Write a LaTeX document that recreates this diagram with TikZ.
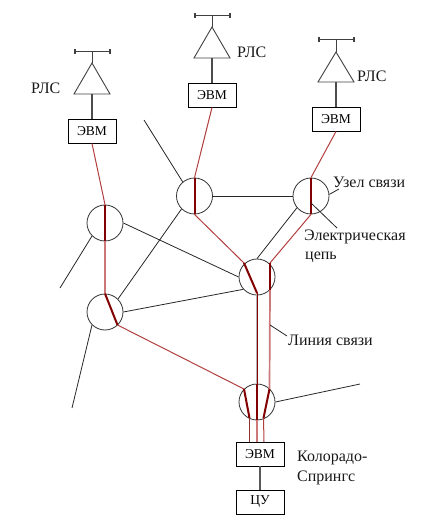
\documentclass[tikz,border=0pt]{standalone}
\usepackage{fontspec}
\setmainfont{Liberation Serif}
\definecolor{thinred}{RGB}{178,62,62}
\definecolor{palered}{RGB}{205,120,120}
\definecolor{darkcore}{RGB}{130,0,0}
\tikzset{
  x=1pt,y=-1pt,
  hub/.style={draw=black!80,line width=0.8pt,circle,minimum size=36pt,inner sep=0pt},
  compbox/.style={draw=black,line width=0.9pt,minimum width=48pt,minimum height=24pt,inner sep=0pt,font=\fontsize{13.5}{15}\selectfont},
  wire/.style={draw=black!85,line width=0.8pt},
  redwire/.style={draw=thinred,line width=1pt},
  paleline/.style={draw=palered,line width=1.7pt},
  core/.style={draw=darkcore,line width=2pt},
  ant/.style={draw=black!75,line width=0.9pt},
  lbl/.style={inner sep=0pt,anchor=west,font=\fontsize{16}{18}\selectfont,text=black!90},
}
\begin{document}
\begin{tikzpicture}
\useasboundingbox (0,0) rectangle (424,529);
% hubs
\node[hub] (h1) at (105,223) {};
\node[hub] (h2) at (194.5,196) {};
\node[hub] (h3) at (311,196) {};
\node[hub] (h4) at (257,277) {};
\node[hub] (h5) at (105,312) {};
\node[hub] (h6) at (257,402) {};
% boxes
\node[compbox] (b1) at (92,131) {ЭВМ};
\node[compbox] (b2) at (212,95) {ЭВМ};
\node[compbox] (b3) at (336,119) {ЭВМ};
\node[compbox] (b4) at (260,454) {ЭВМ};
\node[compbox] (cu) at (260,502) {ЦУ};
% free ends and wire ends
\coordinate (f1) at (144,120);
\coordinate (f2) at (60,288);
\coordinate (f3) at (72,408);
\coordinate (f4) at (360,384);
\coordinate (a4) at (244,263);
\coordinate (c4) at (257,293);
\coordinate (d4) at (270,263);
\coordinate (e4) at (270,290);
\coordinate (g5) at (117.5,325);
\coordinate (a6) at (244,389);
\coordinate (c6) at (249.5,418);
\coordinate (d6) at (269.5,389);
\coordinate (e6) at (263.5,418);
\coordinate (c6b) at (249.5,442);
\coordinate (e6b) at (264,442);
\coordinate (m6b) at (257,442);
\coordinate (v4a) at (256.5,293);
\coordinate (v6a) at (256.5,384);
% black links
\draw[wire] (f1) -- (h2.130);
\draw[wire] (h2.east) -- (h3.west);
\draw[wire] (h1.east) -- (h4.west);
\draw[wire] (h1.225) -- (f2);
\draw[wire] (h5.45) -- (h2.225);
\draw[wire] (h5.east) -- (h4.222);
\draw[wire] (h5.225) -- (f3);
\draw[wire] (h6.east) -- (f4);
\draw[wire] (h3.220) -- (h4.north);
% red links
\draw[redwire] (b1.south) -- (h1.north);
\draw[redwire] (b2.south) -- (h2.north);
\draw[redwire] (b3.south) -- (h3.north);
\draw[redwire] (h2.south) -- (a4);
\draw[redwire] (h3.south) -- (d4);
\draw[paleline] (h1.south) -- (h5.north);
\draw[redwire] (g5) -- (a6);
\draw[paleline] (e4) -- (d6);
\draw[draw=black!30,line width=1.6pt] (v4a) -- (v6a);
\draw[draw=darkcore,line width=1pt] (c4) -- (h6.north);
\draw[redwire,draw=thinred!80!black] (c6) -- (c6b);
\draw[paleline] (h6.south) -- (m6b);
\draw[redwire] (e6) -- (e6b);
% thick circuits inside hubs
\draw[core] (h1.north) -- (h1.south);
\draw[core] (h2.north) -- (h2.south);
\draw[core] (h3.north) -- (h3.south);
\draw[core] (a4) -- (c4);
\draw[core] (d4) -- (e4);
\draw[core] (h5.north) -- (g5);
\draw[core] (a6) -- (c6);
\draw[core] (h6.north) -- (h6.south);
\draw[core] (d6) -- (e6);
% computer to control
\draw[draw=black!65,line width=1.2pt] (b4.south) -- (cu.north);
% antennas
\foreach \x/\ybar/\yapex/\ybase/\yb in {92/51.7/63/94/b1, 212/15.7/27/58/b2, 336/39.5/52/82/b3}{
  \draw[ant] (\x-18,\ybase) -- (\x,\yapex) -- (\x+18,\ybase) -- cycle;
  \draw[ant] (\x,\yapex) -- (\x,\ybar);
  \draw[ant] (\x-18,\ybar) -- (\x+17,\ybar);
  \draw[ant] (\x-18,\ybar-2.5) -- (\x-18,\ybar+2.5);
  \draw[ant] (\x-16.5,\ybar-2.5) -- (\x-16.5,\ybar+2.5);
  \draw[ant] (\x+17,\ybar-2.5) -- (\x+17,\ybar+2.5);
  \draw[ant] (\x+18.5,\ybar-2.5) -- (\x+18.5,\ybar+2.5);
  \draw[draw=black!70,line width=1.2pt] (\x,\ybase) -- (\yb.north);
}
% labels
\node[lbl] (t1) at (31,88) {РЛС};
\node[lbl] (t2) at (237,52) {РЛС};
\node[lbl] (t3) at (357,76) {РЛС};
\node[lbl] (t4) at (333,182) {Узел связи};
\node[lbl] (t5) at (304,237) {Электрическая};
\node[lbl] (t6) at (305,257) {цепь};
\node[lbl] (t7) at (288,340) {Линия связи};
\node[lbl] (t8) at (297,458) {Колорадо-};
\node[lbl] (t9) at (297,478) {Спрингс};
% leaders
\coordinate (l1) at (339,189);
\coordinate (l2) at (337,228);
\coordinate (l2s) at (311,203);
\coordinate (l3) at (287,336);
\coordinate (l3s) at (270,325);
\draw[wire] (h3.5) -- (l1);
\draw[wire] (l2s) -- (l2);
\draw[wire] (l3s) -- (l3);
\end{tikzpicture}
\end{document}
